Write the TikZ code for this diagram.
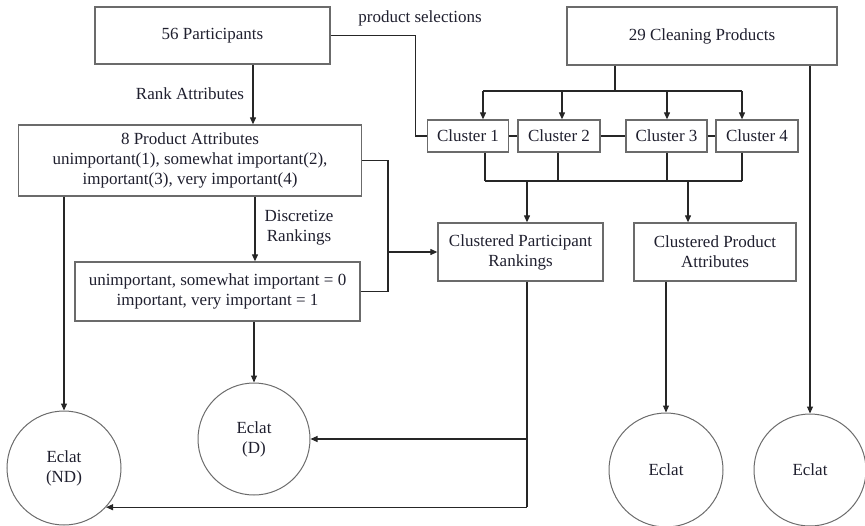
\documentclass[tikz,border=0pt]{standalone}
\usepackage{fontspec}
\setmainfont{Liberation Serif}
\usepackage{tikz}
\usetikzlibrary{arrows.meta,positioning,calc}
\definecolor{boxgray}{HTML}{6B6B6B}
\definecolor{inkdark}{HTML}{1F1F2E}

\begin{document}
\begin{tikzpicture}[
    x=1pt, y=-1pt,
    every node/.style={font=\fontsize{17}{20}\selectfont, text=inkdark},
    procbox/.style={draw=boxgray, line width=1.3pt, align=center, inner sep=2pt},
    eclat/.style={draw=boxgray, line width=1pt, circle, minimum size=113pt, align=center, inner sep=0pt},
    arrow/.style={-{Triangle[length=7pt,width=6pt]}, line width=1.1pt, color=black!85},
    link/.style={line width=1.1pt, color=black!85},
]
    \useasboundingbox (0,0) rectangle (865,525);

    % top row
    \node[procbox, minimum width=235pt, minimum height=57pt] (part) at (212.5,35.5) {56 Participants};
    \node[procbox, minimum width=270pt, minimum height=58pt] (clean) at (702,36) {29 Cleaning Products};
    \node (sel) at (420,18) {product selections};

    % clusters
    \node[procbox, minimum width=81pt, minimum height=32pt] (c1) at (468,136) {Cluster 1};
    \node[procbox, minimum width=82pt, minimum height=32pt] (c2) at (559,136) {Cluster 2};
    \node[procbox, minimum width=81pt, minimum height=32pt] (c3) at (666.5,136) {Cluster 3};
    \node[procbox, minimum width=82pt, minimum height=32pt] (c4) at (757,136) {Cluster 4};

    % attribute boxes
    \node[procbox, minimum width=343pt, minimum height=71pt] (attr) at (190,160.5)
        {8 Product Attributes\\unimportant(1), somewhat important(2),\\important(3), very important(4)};
    \node[procbox, minimum width=285pt, minimum height=59pt] (disc) at (217.5,291.5)
        {unimportant, somewhat important = 0\\important, very important = 1};
    \node[procbox, minimum width=165pt, minimum height=58pt] (cpr) at (520.5,252)
        {Clustered Participant\\Rankings};
    \node[procbox, minimum width=162pt, minimum height=58pt] (cpa) at (715,252)
        {Clustered Product\\Attributes};

    \node (lrank) at (190,94) {Rank Attributes};
    \node[align=center] (ldisc) at (299,228) {Discretize\\Rankings};

    % eclat runs
    \node[eclat, minimum size=114pt] (nd) at (64,468) {Eclat\\(ND)};
    \node[eclat, minimum size=112pt] (d) at (254,439) {Eclat\\(D)};
    \node[eclat, minimum size=114pt] (e3) at (666,470) {Eclat};
    \node[eclat, minimum size=112pt] (e4) at (810,470) {Eclat};

    % junction points
    \coordinate (tb) at (615,91);
    \coordinate (t1) at (483,91);
    \coordinate (t2) at (562,91);
    \coordinate (t3) at (667,91);
    \coordinate (t4) at (742,91);
    \coordinate (b1) at (485,181);
    \coordinate (b2) at (558,181);
    \coordinate (b3) at (667,181);
    \coordinate (b4) at (742,181);
    \coordinate (p1) at (527,181);
    \coordinate (p2) at (688,181);
    \coordinate (ra) at (253,0);
    \coordinate (rd) at (255,0);
    \coordinate (rj) at (388,252);

    \draw[link] (part.east) -- ++(85,0) |- (c1.west);
    \draw[link] (clean.south -| tb) -- (tb);
    \draw[link] (t1) -- (t4);
    \foreach \t/\c in {t1/c1, t2/c2, t3/c3, t4/c4}
        \draw[arrow] (\t) -- (\t |- \c.north);
    \draw[link] (c1) -- (c2);
    \draw[link] (c2) -- (c3);
    \draw[link] (c3) -- (c4);
    \foreach \b/\c in {b1/c1, b2/c2, b3/c3, b4/c4}
        \draw[link] (\b |- \c.south) -- (\b);
    \draw[link] (b1) -- (b4);
    \draw[arrow] (p1) -- (p1 |- cpr.north);
    \draw[arrow] (p2) -- (p2 |- cpa.north);

    \draw[arrow] (ra |- part.south) -- (ra |- attr.north);
    \draw[arrow] (rd |- attr.south) -- (rd |- disc.north);
    \draw[link] (attr.east) -| (rj);
    \draw[link] (disc.east) -| (rj);
    \draw[arrow] (rj) -- (cpr.west);

    \draw[arrow] (nd.north |- attr.south) -- (nd.north);
    \draw[arrow] (d.north |- disc.south) -- (d.north);
    \draw[link] (p1 |- cpr.south) -- (p1 |- nd.-43);
    \draw[arrow] (p1 |- d.east) -- (d.east);
    \draw[arrow] (p1 |- nd.-43) -- (nd.-43);
    \draw[arrow] (e3.north |- cpa.south) -- (e3.north);
    \draw[arrow] (e4.north |- clean.south) -- (e4.north);
\end{tikzpicture}
\end{document}
